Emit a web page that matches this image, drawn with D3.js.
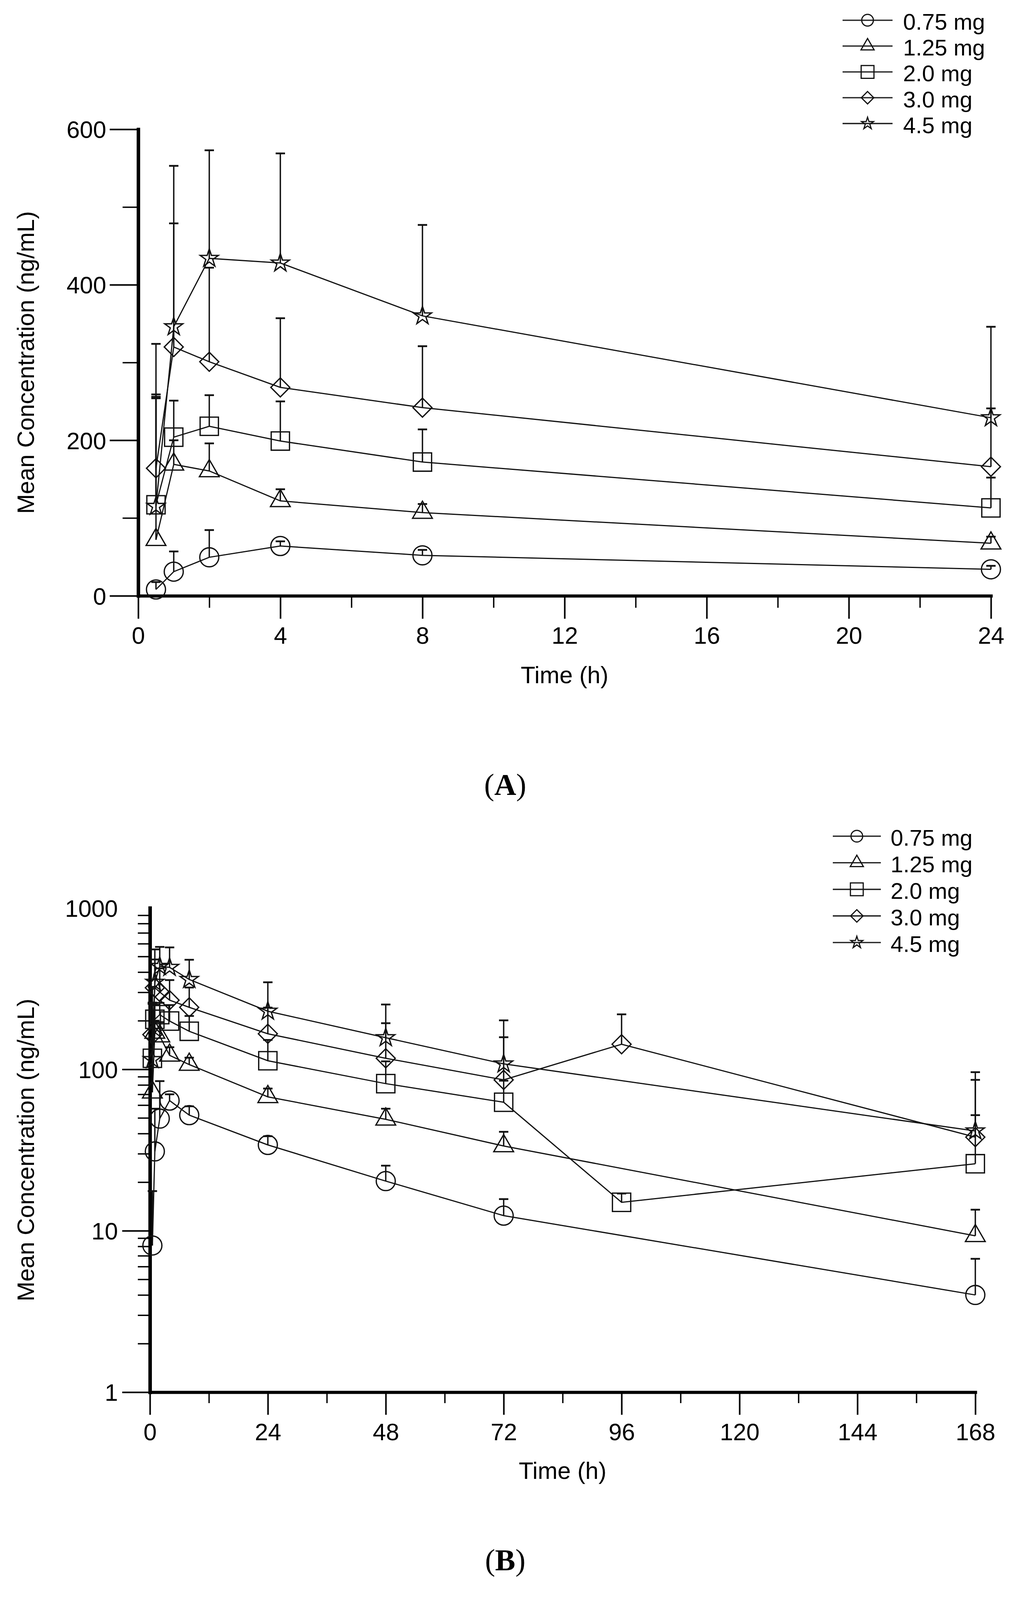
<!DOCTYPE html>
<html lang="en">
<head>
<meta charset="UTF-8">
<title>Mean Concentration vs Time</title>
<script src="https://d3js.org/d3.v7.min.js"></script>
<style>
  html, body { margin: 0; background: #fff; overflow: hidden; }
  text { font-family: "Liberation Sans", Arial, sans-serif; fill: #000; }
</style>
</head>
<body>
<div id="chart"></div>
<script>
// sampling times (h); 96 h only measured for 2.0 and 3.0 mg
const timePoints = [0.5, 1, 2, 4, 8, 24, 48, 72, 96, 168];
const doseLabels = ["0.75 mg", "1.25 mg", "2.0 mg", "3.0 mg", "4.5 mg"];

// mean concentration (ng/mL) and top of the error bar (mean + SD)
const mean075  = [8.1, 31, 49.5, 64, 52, 34, 20.3, 12.4, null, 4.0];
const upper075 = [17.6, 57, 84.5, 70, 59, 38.5, 25.3, 15.7, null, 6.7];
const mean125  = [72, 169, 160.5, 122, 107, 67.5, 49, 33.5, null, 9.3];
const upper125 = [254, 200, 196, 137, 118, 76, 57, 41, null, 13.5];
const mean20   = [117, 204, 218, 199, 172, 113, 81.5, 62.5, 15, 26];
const upper20  = [256, 251, 258, 250, 214, 152, 112, 85, 17, 52];
const mean30   = [164, 320, 301, 268, 242, 166, 117, 86, 143, 38];
const upper30  = [259, 479, 422, 357, 321, 241, 193, 158, 219, 86];
const mean45   = [115, 346, 434, 428, 360, 229, 157, 108, null, 41.5];
const upper45  = [324, 553, 573, 569, 477, 346, 252, 201, null, 96];

// axis ticks
const xMajorA = [0, 4, 8, 12, 16, 20, 24];
const xMinorA = [2, 6, 10, 14, 18, 22];
const yMajorA = [0, 200, 400, 600];
const yMinorA = [100, 300, 500];
const xMajorB = [0, 24, 48, 72, 96, 120, 144, 168];
const xMinorB = [12, 36, 60, 84, 108, 132, 156];
const yMajorB = [1, 10, 100, 1000];
const yMinorB = [2, 3, 4, 5, 6, 7, 8, 9, 20, 30, 40, 50, 60, 70, 80, 90, 200, 300, 400, 500, 600, 700, 800, 900];

// the figure is laid out for 2615 x 4665; squeeze vertically if the window is shorter
const width = 2615, fullHeight = 4665;
const k = Math.min(1, (window.innerHeight || fullHeight) / fullHeight);
const fs = Math.sqrt(k);          // text and marker scale
const height = Math.floor(fullHeight * k);
const Y = v => v * k;

const svg = d3.select("#chart").append("svg")
    .attr("width", width)
    .attr("height", height)
    .style("display", "block");

// rotated square, so the diamond is as wide as it is tall
const diamond = {
    draw(context, size) {
        const r = Math.sqrt(size) * 0.62625;
        context.moveTo(0, -r);
        context.lineTo(r, 0);
        context.lineTo(0, r);
        context.lineTo(-r, 0);
        context.closePath();
    }
};

const shapes = [
    { type: d3.symbolCircle, size: 2124, legendSize: 800 },
    { type: d3.symbolTriangle, size: 1263, legendSize: 560 },
    { type: d3.symbolSquare, size: 2500, legendSize: 1225 },
    { type: diamond, size: 1723, legendSize: 740 },
    { type: d3.symbolStar, size: 760, legendSize: 330 }
];

const series = [
    { label: doseLabels[0], mean: mean075, upper: upper075 },
    { label: doseLabels[1], mean: mean125, upper: upper125 },
    { label: doseLabels[2], mean: mean20, upper: upper20 },
    { label: doseLabels[3], mean: mean30, upper: upper30 },
    { label: doseLabels[4], mean: mean45, upper: upper45 }
];

const fontPx = 65 * fs;

function pointsOf(s, tMax) {
    return timePoints
        .map((t, i) => ({ t: t, m: s.mean[i], u: s.upper[i] }))
        .filter(d => d.m != null && d.t <= tMax);
}

function styleAxis(g, domainWidth, tickWidth) {
    g.select(".domain")
        .attr("stroke", "#000")
        .attr("stroke-width", domainWidth)
        .attr("stroke-linecap", "square");
    g.selectAll(".tick line")
        .attr("stroke", "#000")
        .attr("stroke-width", tickWidth);
    g.selectAll(".tick text")
        .style("font-size", fontPx + "px");
}

function drawPanel(cfg) {
    const g = svg.append("g");
    const x = cfg.x, y = cfg.y;
    const x0 = x.range()[0], yBottom = y.range()[0];

    // minor ticks first, then the labelled axis on top
    g.append("g")
        .attr("transform", `translate(0,${yBottom})`)
        .call(d3.axisBottom(x).tickValues(cfg.xMinor).tickSize(Y(cfg.xMinorLen)).tickFormat("").tickSizeOuter(0))
        .call(a => a.select(".domain").remove())
        .call(a => styleAxis(a, 0, 3.5));
    g.append("g")
        .attr("transform", `translate(${x0},0)`)
        .call(d3.axisLeft(y).tickValues(cfg.yMinor).tickSize(cfg.yMinorLen).tickFormat("").tickSizeOuter(0))
        .call(a => a.select(".domain").remove())
        .call(a => styleAxis(a, 0, 3.5));

    const xAxis = g.append("g")
        .attr("transform", `translate(0,${yBottom})`)
        .call(d3.axisBottom(x).tickValues(cfg.xMajor).tickSize(Y(cfg.xMajorLen)).tickSizeOuter(0))
        .call(a => styleAxis(a, 8, 4));
    xAxis.selectAll(".tick text").attr("y", Y(140)).attr("dy", 0);

    const yAxis = g.append("g")
        .attr("transform", `translate(${x0},0)`)
        .call(d3.axisLeft(y).tickValues(cfg.yMajor).tickSize(cfg.yMajorLen)
            .tickPadding(82 - cfg.yMajorLen).tickFormat(d3.format("d")).tickSizeOuter(0))
        .call(a => styleAxis(a, 9, 4));
    yAxis.selectAll(".tick text").attr("dy", "0.36em");
    if (cfg.hideTopTick) {
        yAxis.selectAll(".tick").filter(d => d === cfg.hideTopTick).select("line").remove();
    }

    // connecting lines
    const line = d3.line().x(d => x(d.t)).y(d => y(d.m));
    series.forEach(s => {
        g.append("path")
            .datum(pointsOf(s, cfg.tMax))
            .attr("fill", "none")
            .attr("stroke", "#111")
            .attr("stroke-width", 3)
            .attr("d", line);
    });

    // upper error bars
    series.forEach(s => {
        const pts = pointsOf(s, cfg.tMax).filter(d => d.u != null);
        const eg = g.append("g").attr("stroke", "#111");
        eg.selectAll("line.bar").data(pts).join("line")
            .attr("class", "bar")
            .attr("x1", d => x(d.t)).attr("x2", d => x(d.t))
            .attr("y1", d => y(d.m)).attr("y2", d => y(d.u))
            .attr("stroke-width", 3.5);
        eg.selectAll("line.cap").data(pts).join("line")
            .attr("class", "cap")
            .attr("x1", d => x(d.t) - 12).attr("x2", d => x(d.t) + 12)
            .attr("y1", d => y(d.u)).attr("y2", d => y(d.u))
            .attr("stroke-width", 4.5);
    });

    // hollow markers
    series.forEach((s, i) => {
        const sym = d3.symbol().type(shapes[i].type).size(shapes[i].size * k);
        g.append("g").selectAll("path").data(pointsOf(s, cfg.tMax)).join("path")
            .attr("transform", d => `translate(${x(d.t)},${y(d.m)})`)
            .attr("d", sym)
            .attr("fill", "none")
            .attr("stroke", "#111")
            .attr("stroke-width", 3.3);
    });

    // axis titles
    g.append("text")
        .attr("x", (x.range()[0] + x.range()[1]) / 2)
        .attr("y", Y(cfg.xTitleY))
        .attr("text-anchor", "middle")
        .style("font-size", fontPx + "px")
        .text("Time (h)");
    g.append("text")
        .attr("transform", `translate(87,${(y.range()[0] + y.range()[1]) / 2}) rotate(-90)`)
        .attr("text-anchor", "middle")
        .style("font-size", fontPx + "px")
        .text("Mean Concentration (ng/mL)");

    // legend, line runs through the hollow marker
    const lg = g.append("g");
    series.forEach((s, i) => {
        const ry = Y(cfg.legend.y + i * cfg.legend.step);
        lg.append("line")
            .attr("x1", cfg.legend.x1).attr("x2", cfg.legend.x2)
            .attr("y1", ry).attr("y2", ry)
            .attr("stroke", "#222").attr("stroke-width", 3.3);
        lg.append("path")
            .attr("transform", `translate(${(cfg.legend.x1 + cfg.legend.x2) / 2},${ry})`)
            .attr("d", d3.symbol().type(shapes[i].type).size(shapes[i].legendSize * k))
            .attr("fill", "none")
            .attr("stroke", "#111")
            .attr("stroke-width", 3);
        lg.append("text")
            .attr("x", cfg.legend.tx)
            .attr("y", ry + 26 * fs)
            .style("font-size", (62 * fs) + "px")
            .text(s.label);
    });

    // panel letter
    const pl = g.append("text")
        .attr("x", 1294)
        .attr("y", Y(cfg.letterY))
        .attr("text-anchor", "middle")
        .style("font-family", "'Liberation Serif', 'Times New Roman', serif")
        .style("font-size", (83 * fs) + "px");
    pl.append("tspan").text("(");
    pl.append("tspan").style("font-weight", "bold").text(cfg.letter);
    pl.append("tspan").text(")");
}

drawPanel({
    x: d3.scaleLinear().domain([0, 24]).range([354, 2538]),
    y: d3.scaleLinear().domain([0, 600]).range([Y(1737), Y(377)]),
    tMax: 24,
    xMajor: xMajorA, xMinor: xMinorA, xMajorLen: 67, xMinorLen: 35,
    yMajor: yMajorA, yMinor: yMinorA, yMajorLen: 73, yMinorLen: 40,
    xTitleY: 1992,
    legend: { x1: 2158, x2: 2286, tx: 2313, y: 59, step: 75.3 },
    letter: "A", letterY: 2318
});

drawPanel({
    x: d3.scaleLinear().domain([0, 168]).range([384, 2498]),
    y: d3.scaleLog().domain([1, 1000]).range([Y(4059), Y(2647)]),
    tMax: 168,
    xMajor: xMajorB, xMinor: xMinorB, xMajorLen: 66, xMinorLen: 32,
    yMajor: yMajorB, yMinor: yMinorB, yMajorLen: 71, yMinorLen: 31,
    hideTopTick: 1000,
    xTitleY: 4312,
    legend: { x1: 2133, x2: 2256, tx: 2281, y: 2438, step: 77.5 },
    letter: "B", letterY: 4578
});
</script>
</body>
</html>
